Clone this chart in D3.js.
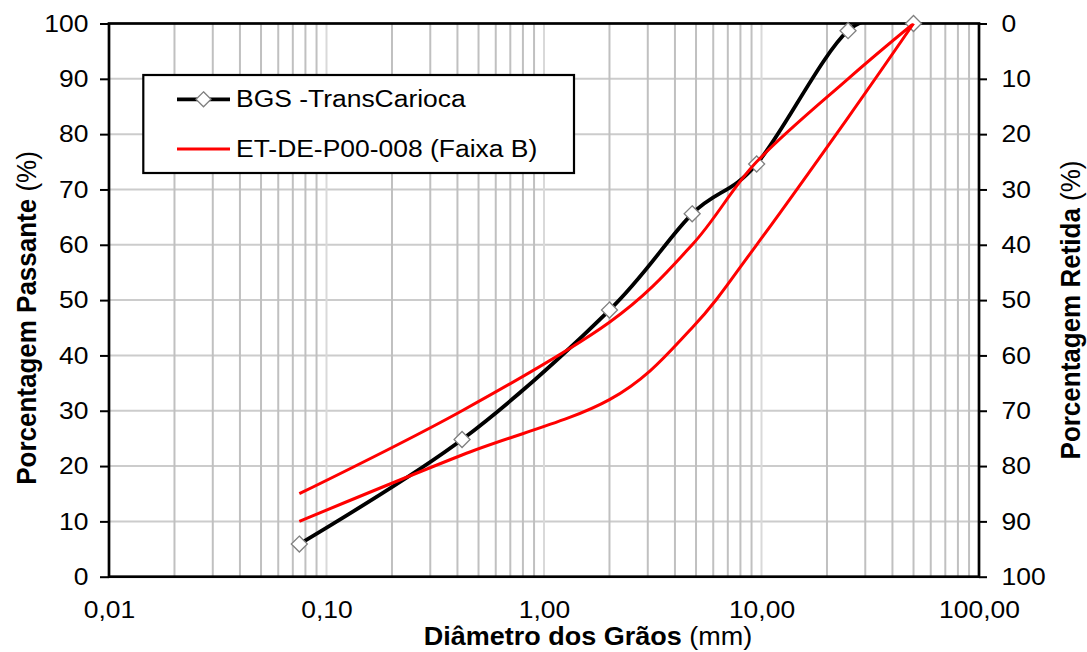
<!DOCTYPE html>
<html><head><meta charset="utf-8">
<script src="https://cdn.jsdelivr.net/npm/d3@7"></script>
<style>body{margin:0;background:#fff} svg{display:block}</style>
</head><body><svg id="c" width="1087" height="652"></svg>
<script>
// ---- data ----
const sieves = [0.075, 0.42, 2.0, 4.8, 9.5, 25, 50];
const bgsPassing = [5.9, 24.8, 48.2, 65.6, 74.6, 98.7, 100];
const faixaUpper = [15, 30, 46, 60, 75, 90, 100];
const faixaLower = [10, 22, 32, 45, 60, 83, 100];
const xTicks = [0.01, 0.1, 1, 10, 100];
const xTickLabels = ["0,01", "0,10", "1,00", "10,00", "100,00"];
const yTicks = [0, 10, 20, 30, 40, 50, 60, 70, 80, 90, 100];
const seriesNames = ["BGS -TransCarioca", "ET-DE-P00-008 (Faixa B)"];
const xTitleBold = "Diâmetro dos Grãos", xTitleUnit = " (mm)";
const yTitleBold = "Porcentagem Passante", yTitleUnit = " (%)";
const y2TitleBold = "Porcentagem Retida", y2TitleUnit = " (%)";

// ---- layout ----
const FONT = "'Liberation Sans', Arial, sans-serif";
const FS = 24.5, SX = 1.08;
const L = 109, R = 979, T = 23.5, B = 576.7;

const svg = d3.select("#c");
svg.append("rect").attr("width", 1087).attr("height", 652).attr("fill", "#fff");

const x = d3.scaleLog().domain([0.01, 100]).range([L, R]);
const y = d3.scaleLinear().domain([0, 100]).range([B, T]);
const yR = d3.scaleLinear().domain([100, 0]).range([B, T]);

// grid
const grid = svg.append("g");
const decades = [0.01, 0.1, 1, 10];
const minor = [];
decades.forEach(d => { for (let k = 2; k <= 9; k++) minor.push(d * k); });
grid.selectAll("line.h").data(yTicks.filter(v => v > 0 && v < 100)).enter().append("line")
  .attr("x1", L).attr("x2", R).attr("y1", d => y(d)).attr("y2", d => y(d))
  .attr("stroke", "#cccccc").attr("stroke-width", 2);
grid.selectAll("line.mi").data(minor).enter().append("line")
  .attr("x1", d => x(d)).attr("x2", d => x(d)).attr("y1", T).attr("y2", B)
  .attr("stroke", "#c0c0c0").attr("stroke-width", 2);
grid.selectAll("line.ma").data(xTicks.slice(1, -1)).enter().append("line")
  .attr("x1", d => x(d)).attr("x2", d => x(d)).attr("y1", T).attr("y2", B)
  .attr("stroke", "#d9d9d9").attr("stroke-width", 2);

function stretch(sel) {
  sel.each(function () {
    const t = d3.select(this);
    const xv = +t.attr("x") || 0;
    t.attr("x", xv / SX).attr("transform", `scale(${SX},1)`);
  });
}
function styleAxis(g) {
  g.attr("font-size", FS).attr("font-family", FONT);
  g.select(".domain").remove();
  g.selectAll(".tick line").attr("stroke", "#000").attr("stroke-width", 2);
  g.selectAll("text").attr("fill", "#000");
  stretch(g.selectAll("text"));
}

const axL = svg.append("g").attr("transform", `translate(${L},0)`)
  .call(d3.axisLeft(y).tickValues(yTicks).tickSize(9).tickPadding(11.5).tickFormat(d3.format("d")));
styleAxis(axL);
const axR = svg.append("g").attr("transform", `translate(${R},0)`)
  .call(d3.axisRight(yR).tickValues(yTicks).tickSize(8).tickPadding(14.5).tickFormat(d3.format("d")));
styleAxis(axR);
const axB = svg.append("g").attr("transform", `translate(0,${B})`)
  .call(d3.axisBottom(x).tickValues(xTicks).tickSize(0).tickPadding(24.4).tickFormat((d, i) => xTickLabels[i]));
styleAxis(axB);

// plot border
svg.append("rect").attr("x", L).attr("y", T).attr("width", R - L).attr("height", B - T)
  .attr("fill", "none").attr("stroke", "#000").attr("stroke-width", 2.7);

// clip
svg.append("clipPath").attr("id", "clip").append("rect")
  .attr("x", L).attr("y", T).attr("width", R - L).attr("height", B - T);

const line = d3.line().x(d => x(d[0])).y(d => y(d[1])).curve(d3.curveCardinal.tension(0));
const bgsData = sieves.map((s, i) => [s, bgsPassing[i]]);
const upData = sieves.map((s, i) => [s, faixaUpper[i]]);
const loData = sieves.map((s, i) => [s, faixaLower[i]]);

const diamond = r => `M0,${-r}L${r},0L0,${r}L${-r},0Z`;

const plot = svg.append("g");
plot.append("path").datum(bgsData).attr("clip-path", "url(#clip)")
  .attr("d", line).attr("fill", "none").attr("stroke", "#000").attr("stroke-width", 3.8)
  .attr("stroke-linejoin", "round");
plot.selectAll("path.m").data(bgsData).enter().append("path")
  .attr("transform", d => `translate(${x(d[0])},${y(d[1])})`)
  .attr("d", diamond(8)).attr("fill", "#fff").attr("stroke", "#7f7f7f").attr("stroke-width", 1.3);
[loData, upData].forEach(dd => {
  plot.append("path").datum(dd).attr("clip-path", "url(#clip)")
    .attr("d", line).attr("fill", "none").attr("stroke", "#ff0000").attr("stroke-width", 3)
    .attr("stroke-linejoin", "round");
});

// legend
const lg = svg.append("g");
lg.append("rect").attr("x", 143.3).attr("y", 75).attr("width", 574 - 143.3).attr("height", 173 - 75)
  .attr("fill", "#fff").attr("stroke", "#000").attr("stroke-width", 2.2);
lg.append("line").attr("x1", 177).attr("x2", 230).attr("y1", 99.3).attr("y2", 99.3)
  .attr("stroke", "#000").attr("stroke-width", 3.8);
lg.append("path").attr("transform", "translate(203.5,99.3)").attr("d", diamond(7.5))
  .attr("fill", "#fff").attr("stroke", "#7f7f7f").attr("stroke-width", 1.3);
lg.append("line").attr("x1", 177).attr("x2", 230).attr("y1", 149).attr("y2", 149)
  .attr("stroke", "#ff0000").attr("stroke-width", 3);
[[seriesNames[0], 107.3], [seriesNames[1], 156.7]].forEach(([t, yy]) => {
  lg.append("text").attr("x", 236 / SX).attr("y", yy).attr("transform", `scale(${SX},1)`)
    .attr("font-family", FONT).attr("font-size", FS).attr("fill", "#000").text(t);
});

// titles
function title(tx, ty, rot, size, bold, unit) {
  const g = svg.append("g").attr("transform", `translate(${tx},${ty}) scale(${SX},1) rotate(${rot})`);
  const t = g.append("text").attr("text-anchor", "middle").attr("font-family", FONT)
    .attr("font-size", size).attr("fill", "#000");
  t.append("tspan").attr("font-weight", "bold").text(bold);
  t.append("tspan").text(unit);
}
title(588, 645, 0, 25, xTitleBold, xTitleUnit);
title(36, 318, -90, 26, yTitleBold, yTitleUnit);
title(1080, 310, -90, 26, y2TitleBold, y2TitleUnit);
</script></body></html>
